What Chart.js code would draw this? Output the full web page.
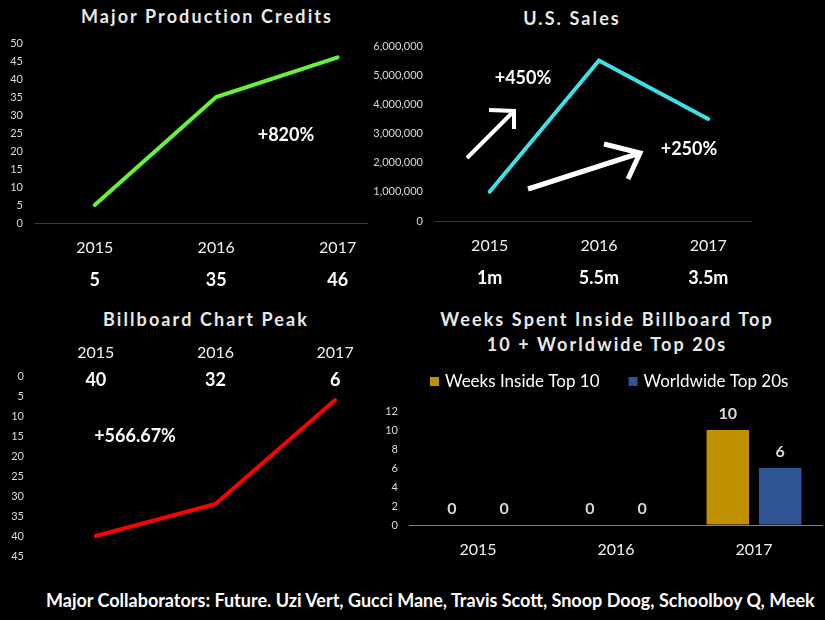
<!DOCTYPE html>
<html>
<head>
<meta charset="utf-8">
<script src="https://cdn.jsdelivr.net/npm/chart.js@4.4.0/dist/chart.umd.min.js"></script>
<style>
  html, body { margin: 0; padding: 0; background: #000; }
  body { width: 825px; height: 620px; position: relative; overflow: hidden; font-family: Lato, sans-serif; color: #fff; }
  canvas { position: absolute; left: 0; top: 0; }
  .title { position: absolute; font-weight: bold; font-size: 18px; line-height: 25px; letter-spacing: 2.1px;
           color: #e8e8e8; text-align: center; white-space: nowrap; transform: translateX(-50%); }
  .footer { position: absolute; left: 46px; top: 589px; font-weight: bold; font-size: 18px; line-height: 22px; white-space: nowrap; }
</style>
</head>
<body>
<div class="title" style="left:207px; top:4px">Major Production Credits</div>
<div class="title" style="left:572px; top:6px">U.S. Sales</div>
<div class="title" style="left:206px; top:307px">Billboard Chart Peak</div>
<div class="title" style="left:607px; top:307px">Weeks Spent Inside Billboard Top<br>10 + Worldwide Top 20s</div>
<div class="footer">Major Collaborators: Future. Uzi Vert, Gucci Mane, Travis Scott, Snoop Doog, Schoolboy Q, Meek</div>

<canvas id="credits" width="825" height="620"></canvas>
<canvas id="sales" width="825" height="620"></canvas>
<canvas id="peak" width="825" height="620"></canvas>
<canvas id="weeks" width="825" height="620"></canvas>

<script>
// data
const years = [2015, 2016, 2017];
const productionCredits = [5, 35, 46];
const usSales = [1000000, 5500000, 3500000];
const salesLabels = ["1m", "5.5m", "3.5m"];
const chartPeak = [40, 32, 6];
const weeksTop10 = [0, 0, 10];
const worldwideTop20 = [0, 0, 6];
const seriesNames = ["Weeks Inside Top 10", "Worldwide Top 20s"];

Chart.defaults.font.family = "Lato, 'DejaVu Sans', sans-serif";
Chart.defaults.animation = false;

// value rows, notes and arrows drawn on top of each chart
const overlay = {
  id: "overlay",
  afterDraw(chart, args, opts) {
    const ctx = chart.ctx;
    const xs = chart.scales.x;
    ctx.save();
    ctx.textAlign = "center";
    ctx.textBaseline = "middle";
    ctx.fillStyle = "#fff";
    ctx.font = "bold 18px Lato";
    if (opts.row) {
      opts.row.labels.forEach((t, i) => ctx.fillText(t, xs.getPixelForValue(years[i]), opts.row.y));
    }
    (opts.notes || []).forEach(n => ctx.fillText(n.text, n.x, n.y));
    ctx.strokeStyle = "#fff";
    (opts.arrows || []).forEach(a => {
      ctx.lineWidth = a.w;
      ctx.beginPath();
      ctx.moveTo(a.from[0], a.from[1]);
      ctx.lineTo(a.to[0], a.to[1]);
      ctx.moveTo(a.head[0][0], a.head[0][1]);
      ctx.lineTo(a.to[0], a.to[1]);
      ctx.lineTo(a.head[1][0], a.head[1][1]);
      ctx.stroke();
    });
    ctx.restore();
  }
};

function lineChart(id, o) {
  const xAxisH = o.xTop ? 40 : 60;
  return new Chart(document.getElementById(id), {
    type: "line",
    data: {
      datasets: [{
        data: years.map((y, i) => ({ x: y, y: o.values[i] })),
        borderColor: o.color,
        borderWidth: 4,
        borderCapStyle: "round",
        pointRadius: 0,
        tension: 0
      }]
    },
    options: {
      responsive: false,
      layout: {
        padding: {
          left: o.area.l - o.yAxisW,
          right: 825 - o.area.r,
          top: o.xTop ? o.area.t - xAxisH : o.area.t,
          bottom: o.xTop ? 620 - o.area.b : 620 - o.area.b - xAxisH
        }
      },
      plugins: {
        legend: { display: false },
        tooltip: { enabled: false },
        overlay: { row: o.row, notes: o.notes, arrows: o.arrows }
      },
      scales: {
        x: {
          type: "linear",
          position: o.xTop ? "top" : "bottom",
          min: o.xMin,
          max: o.xMax,
          afterBuildTicks: s => { s.ticks = years.map(v => ({ value: v })); },
          afterFit: s => { s.height = xAxisH; },
          grid: { display: false, drawTicks: false },
          border: { display: false },
          ticks: {
            callback: v => String(v),
            color: "#f2f2f2",
            font: { size: 16 },
            padding: o.xTop ? 14 : 15,
            maxRotation: 0
          }
        },
        y: {
          min: 0,
          max: o.yMax,
          reverse: !!o.reverse,
          afterFit: s => { s.width = o.yAxisW; },
          grid: {
            drawTicks: false,
            color: c => (o.zeroLine && c.tick.value === 0) ? "#3a3a3a" : "rgba(0,0,0,0)"
          },
          border: { display: false },
          ticks: {
            stepSize: o.step,
            color: "#d9d9d9",
            font: { size: 11 },
            padding: o.yPad,
            callback: v => v.toLocaleString("en-US")
          }
        }
      }
    },
    plugins: [overlay]
  });
}

lineChart("credits", {
  values: productionCredits, color: "#66f236",
  area: { l: 34, r: 368, t: 43, b: 223 }, yAxisW: 30, yPad: 11,
  xMin: 2014.5, xMax: 2017.25, yMax: 50, step: 5, zeroLine: true,
  row: { labels: productionCredits.map(String), y: 280 },
  notes: [{ text: "+820%", x: 286, y: 135 }]
});

lineChart("sales", {
  values: usSales, color: "#40dfe5",
  area: { l: 435, r: 752, t: 46, b: 221 }, yAxisW: 65, yPad: 12,
  xMin: 2014.5, xMax: 2017.4, yMax: 6000000, step: 1000000, zeroLine: true,
  row: { labels: salesLabels, y: 278 },
  notes: [{ text: "+450%", x: 523, y: 78 }, { text: "+250%", x: 689, y: 149 }],
  arrows: [
    { from: [467, 158], to: [514, 111], head: [[489, 110], [514, 129]], w: 4 },
    { from: [528, 189], to: [640, 153], head: [[604, 144], [628, 179]], w: 5 }
  ]
});

lineChart("peak", {
  values: chartPeak, color: "#ff0000",
  area: { l: 36, r: 371, t: 376, b: 556 }, yAxisW: 30, yPad: 12,
  xMin: 2014.5, xMax: 2017.3, yMax: 45, step: 5, reverse: true, xTop: true,
  row: { labels: chartPeak.map(String), y: 380 },
  notes: [{ text: "+566.67%", x: 135, y: 436 }]
});

// bar value labels + legend for the weeks chart
const barExtras = {
  id: "barExtras",
  afterDraw(chart) {
    const ctx = chart.ctx;
    ctx.save();
    ctx.textAlign = "center";
    ctx.textBaseline = "middle";
    ctx.font = "bold 16px Lato";
    ctx.fillStyle = "#d9d9d9";
    chart.data.datasets.forEach((ds, di) => {
      chart.getDatasetMeta(di).data.forEach((el, i) => {
        ctx.fillText(String(ds.data[i]), el.x, el.y - 16);
      });
    });
    // legend
    ctx.textAlign = "left";
    ctx.font = "17px Lato";
    let x = 430;
    chart.data.datasets.forEach(ds => {
      ctx.fillStyle = ds.backgroundColor;
      ctx.fillRect(x, 377, 9, 9);
      ctx.fillStyle = "#fff";
      ctx.fillText(ds.label, x + 15, 382);
      x += 15 + ctx.measureText(ds.label).width + 29;
    });
    ctx.restore();
  }
};

new Chart(document.getElementById("weeks"), {
  type: "bar",
  data: {
    labels: years.map(String),
    datasets: [
      { label: seriesNames[0], data: weeksTop10, backgroundColor: "#bf9000" },
      { label: seriesNames[1], data: worldwideTop20, backgroundColor: "#2f5597" }
    ]
  },
  options: {
    responsive: false,
    categoryPercentage: 0.76,
    barPercentage: 0.81,
    layout: { padding: { left: 380, right: 2, top: 411, bottom: 35 } },
    plugins: { legend: { display: false }, tooltip: { enabled: false } },
    scales: {
      x: {
        afterFit: s => { s.height = 60; },
        grid: { display: false, drawTicks: false },
        border: { display: false },
        ticks: { color: "#f2f2f2", font: { size: 16 }, padding: 15 }
      },
      y: {
        min: 0,
        max: 12,
        afterFit: s => { s.width = 29; },
        grid: { drawTicks: false, color: c => c.tick.value === 0 ? "#808080" : "rgba(0,0,0,0)" },
        border: { display: false },
        ticks: { stepSize: 2, color: "#d9d9d9", font: { size: 11 }, padding: 11 }
      }
    }
  },
  plugins: [barExtras]
});
</script>
</body>
</html>
